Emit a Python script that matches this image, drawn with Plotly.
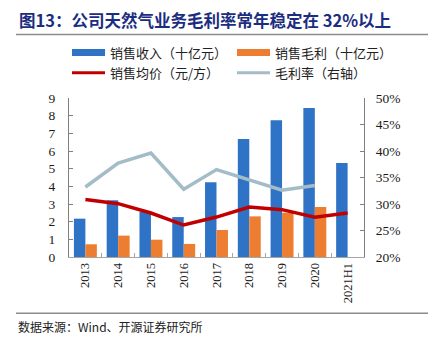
import plotly.graph_objects as go

# Natural gas business: revenue, gross profit, average price, gross margin
years = ["2013", "2014", "2015", "2016", "2017", "2018", "2019", "2020", "2021H1"]
revenue = [2.17, 3.21, 2.55, 2.26, 4.23, 6.68, 7.74, 8.43, 5.32]          # 十亿元
gross_profit = [0.72, 1.21, 0.98, 0.74, 1.53, 2.30, 2.51, 2.83, None]      # 十亿元
avg_price = [3.26, 3.02, 2.49, 1.81, 2.26, 2.83, 2.68, 2.25, 2.49]         # 元/方
gross_margin = [0.332, 0.377, 0.396, 0.328, 0.365, 0.346, 0.326, 0.335, None]  # 右轴

BLUE = "#2F73C6"
ORANGE = "#ED7D31"
RED = "#C00000"
GREY = "#A4BCC8"
SERIF = "Liberation Serif"
CJK = "Noto Sans CJK SC"

fig = go.Figure()
fig.add_trace(go.Bar(x=years, y=revenue, name="销售收入（十亿元）",
                     marker=dict(color=BLUE, line=dict(width=0))))
fig.add_trace(go.Bar(x=years, y=gross_profit, name="销售毛利（十亿元）",
                     marker=dict(color=ORANGE, line=dict(width=0))))
fig.add_trace(go.Scatter(x=years, y=avg_price, name="销售均价（元/方）", mode="lines",
                         line=dict(color=RED, width=3.5)))
fig.add_trace(go.Scatter(x=years, y=gross_margin, name="毛利率（右轴）", mode="lines",
                         line=dict(color=GREY, width=3.5), yaxis="y2"))

fig.update_layout(
    width=441, height=345,
    margin=dict(l=69, r=77, t=98, b=88),
    paper_bgcolor="white", plot_bgcolor="white",
    showlegend=False,
    barmode="group", bargap=0.3, bargroupgap=0.0,
    font=dict(family=SERIF, size=13, color="#1a1a1a"),
    xaxis=dict(
        type="category", tickangle=-90, tickfont=dict(family=SERIF, size=12.5, color="#1a1a1a"),
        showline=True, linecolor="#A6A6A6", linewidth=1,
        ticks="inside", ticklen=4, tickcolor="#A6A6A6", tickson="boundaries",
        showgrid=False, zeroline=False,
    ),
    yaxis=dict(
        range=[0, 9], dtick=1, tickfont=dict(family=SERIF, size=13.5, color="#1a1a1a"),
        showline=True, linecolor="#808080", linewidth=1,
        ticks="inside", ticklen=4, tickcolor="#808080", ticklabelstandoff=10,
        showgrid=False, zeroline=False,
    ),
    yaxis2=dict(
        overlaying="y", side="right", range=[0.2, 0.5], dtick=0.05, tickformat=".0%",
        tickfont=dict(family=SERIF, size=13.5, color="#1a1a1a"),
        showline=True, linecolor="#808080", linewidth=1,
        ticks="inside", ticklen=4, tickcolor="#808080", ticklabelstandoff=8,
        showgrid=False, zeroline=False,
    ),
)


def px_x(v):
    return (v - 69) / 295


def px_y(v):
    return (345 - 88 - v) / 159


# Title and rules
fig.add_annotation(xref="paper", yref="paper", x=px_x(17), y=px_y(20),
                   xanchor="left", yanchor="middle", showarrow=False,
                   text="<b>图13：公司天然气业务毛利率常年稳定在 32%以上</b>",
                   font=dict(family=CJK, size=16.5, color="#1B2D80"))
for yline in (34.5, 313.3):
    fig.add_shape(type="line", xref="paper", yref="paper",
                  x0=px_x(16), x1=px_x(428), y0=px_y(yline), y1=px_y(yline),
                  line=dict(color="#8C8C8C", width=1.5))
fig.add_annotation(xref="paper", yref="paper", x=px_x(16), y=px_y(326),
                   xanchor="left", yanchor="middle", showarrow=False,
                   text="数据来源：Wind、开源证券研究所",
                   font=dict(family=CJK, size=12, color="#222"))

# Legend drawn in pixel positions
legend_items = [
    ("销售收入（十亿元）", BLUE, "rect", 72, 52.5),
    ("销售毛利（十亿元）", ORANGE, "rect", 237, 52.5),
    ("销售均价（元/方）", RED, "line", 72, 72.7),
    ("毛利率（右轴）", GREY, "line", 237, 72.7),
]
for label, color, kind, x0, yc in legend_items:
    if kind == "rect":
        fig.add_shape(type="rect", xref="paper", yref="paper",
                      x0=px_x(x0), x1=px_x(x0 + 33), y0=px_y(yc + 3.5), y1=px_y(yc - 3.5),
                      line=dict(width=0), fillcolor=color)
    else:
        fig.add_shape(type="line", xref="paper", yref="paper",
                      x0=px_x(x0), x1=px_x(x0 + 33), y0=px_y(yc), y1=px_y(yc),
                      line=dict(color=color, width=3))
    fig.add_annotation(xref="paper", yref="paper", x=px_x(x0 + 36), y=px_y(yc),
                       xanchor="left", yanchor="middle", showarrow=False, text=label,
                       font=dict(family=CJK, size=13, color="#222"))

fig.write_html("out.html")
